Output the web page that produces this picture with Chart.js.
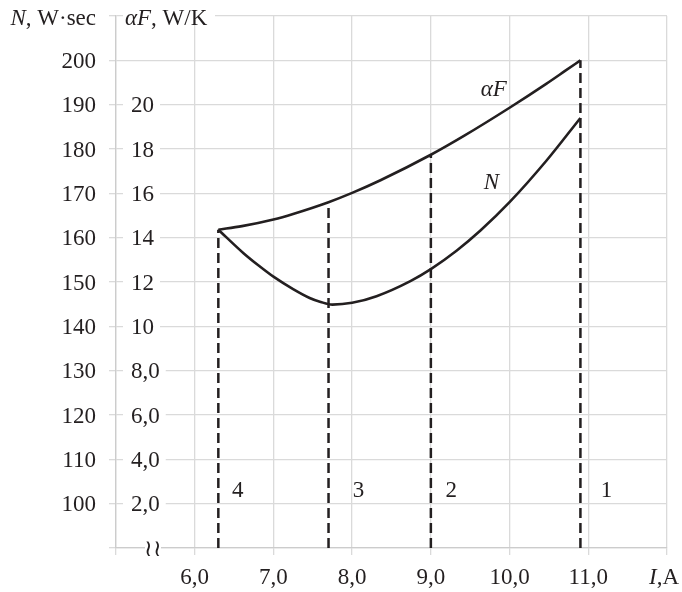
<!DOCTYPE html>
<html>
<head>
<meta charset="utf-8">
<script src="https://cdn.jsdelivr.net/npm/chart.js@4.4.0/dist/chart.umd.min.js"></script>
<style>
  html, body { margin: 0; padding: 0; background: #ffffff; }
</style>
</head>
<body>
<canvas id="chart" width="682" height="592"></canvas>
<script>
// Current I, A and loss N, W·sec along the N curve
const nCurrent = [6.3, 6.62, 6.82, 7.0, 7.25, 7.46, 7.6, 7.75, 8.0, 8.31, 8.74, 9.0, 9.33, 9.63, 10.0, 10.47, 10.9];
const nPower   = [161.8, 156.5, 153.6, 151.2, 148.4, 146.4, 145.5, 144.9, 145.3, 146.8, 150.2, 152.9, 157.1, 161.6, 168.0, 177.4, 187.0];

// Current I, A and heat transfer αF, W/K along the αF curve
const afCurrent = [6.3, 6.6, 7.0, 7.25, 7.7, 8.0, 8.36, 9.0, 9.42, 10.0, 10.47, 10.7, 10.9];
const afValues  = [14.36, 14.52, 14.82, 15.07, 15.6, 16.02, 16.59, 17.74, 18.59, 19.86, 20.95, 21.51, 22.0];

// Region boundaries (dashed verticals) and the region numbers to their right
const boundaryCurrent = [6.3, 7.7, 9.0, 10.9];
const regionNames = ['4', '3', '2', '1'];

// Axis tick labels
const xTickLabels = ['', '6,0', '7,0', '8,0', '9,0', '10,0', '11,0', ''];
const nTickLabels = ['', '100', '110', '120', '130', '140', '150', '160', '170', '180', '190', '200', ''];
const afTickValues = [2, 4, 6, 8, 10, 12, 14, 16, 18, 20];
const afTickLabels = ['2,0', '4,0', '6,0', '8,0', '10', '12', '14', '16', '18', '20'];

const SERIF = '"Liberation Serif", "Times New Roman", serif';
const INK = '#231f20';
const GRID = '#dadada';
const FONT_SIZE = 23;

function fontOf(size, italic) {
  return (italic ? 'italic ' : '') + size + 'px ' + SERIF;
}

// Draws a run of mixed upright/italic text; returns its left edge and width
function drawRich(ctx, parts, x, y, align) {
  let w = 0;
  parts.forEach(p => { ctx.font = fontOf(FONT_SIZE, p.i); w += ctx.measureText(p.t).width; });
  let cx = align === 'right' ? x - w : (align === 'center' ? x - w / 2 : x);
  const left = cx;
  ctx.textAlign = 'left';
  ctx.textBaseline = 'middle';
  ctx.fillStyle = INK;
  parts.forEach(p => {
    ctx.font = fontOf(FONT_SIZE, p.i);
    ctx.fillText(p.t, cx, y);
    cx += ctx.measureText(p.t).width;
  });
  return { left, width: w };
}

const decorations = {
  id: 'decorations',
  afterDraw(chart) {
    const { ctx, chartArea, scales } = chart;
    const x = scales.x, y = scales.y, yF = scales.yF;
    ctx.save();

    // αF scale, written just inside the N axis over the grid
    const afLeft = chartArea.left + 15;
    ctx.font = fontOf(FONT_SIZE, false);
    afTickValues.forEach((v, i) => {
      const gy = yF.getPixelForValue(v);
      const w = ctx.measureText(afTickLabels[i]).width;
      ctx.fillStyle = '#ffffff';
      ctx.fillRect(afLeft - 8, gy - 3, w + 14, 6);
      ctx.fillStyle = INK;
      ctx.textAlign = 'left';
      ctx.textBaseline = 'middle';
      ctx.fillText(afTickLabels[i], afLeft, gy + 1.5);
    });

    // Axis captions
    const topY = y.getPixelForValue(y.max);
    drawRich(ctx, [{ t: 'N', i: true }, { t: ', W·sec' }], chartArea.left - 20, topY + 2.5, 'right');
    ctx.fillStyle = '#ffffff';
    ctx.fillRect(chartArea.left + 7, topY - 3, 92, 6);
    drawRich(ctx, [{ t: 'αF', i: true }, { t: ', W/K' }], chartArea.left + 9, topY + 2.5, 'left');
    const xLabelY = x.top + 7 + 9 + FONT_SIZE * 0.6;
    drawRich(ctx, [{ t: 'I', i: true }, { t: ',A' }], x.getPixelForValue(x.max) - 3, xLabelY, 'center');

    // Scale break mark on the lower axis
    const bx = chartArea.left + 37, by = chartArea.bottom + 2;
    ctx.fillStyle = '#ffffff';
    ctx.fillRect(bx - 8, chartArea.bottom - 3, 16, 6);
    ctx.fillStyle = INK;
    ctx.font = '23px "DejaVu Serif", serif';
    ctx.textAlign = 'center';
    ctx.textBaseline = 'middle';
    ctx.fillText('≀≀', bx, by);

    // Curve names
    ctx.font = fontOf(FONT_SIZE, true);
    ctx.fillText('αF', x.getPixelForValue(9.80), y.getPixelForValue(193.4));
    ctx.fillText('N', x.getPixelForValue(9.77), y.getPixelForValue(172.4));

    // Region numbers beside each dashed boundary
    const regionOffsets = [19.5, 30, 20.5, 26];
    ctx.font = fontOf(FONT_SIZE, false);
    boundaryCurrent.forEach((b, i) => {
      ctx.fillText(regionNames[i], x.getPixelForValue(b) + regionOffsets[i], y.getPixelForValue(100) - 12.5);
    });

    ctx.restore();
  }
};

const dashedBoundaries = boundaryCurrent.map(b => ({
  data: [{ x: b, y: 0 }, { x: b, y: afValues[afCurrent.indexOf(b)] }],
  yAxisID: 'yF',
  borderColor: INK,
  borderWidth: 2.5,
  borderDash: [10, 5],
  pointRadius: 0,
  tension: 0
}));

function noEdgePadding(scale) {
  scale.paddingTop = 0;
  scale.paddingBottom = 0;
  scale.paddingLeft = 0;
  scale.paddingRight = 0;
}

new Chart(document.getElementById('chart'), {
  type: 'line',
  data: {
    datasets: [
      ...dashedBoundaries,
      {
        label: 'αF',
        data: afCurrent.map((c, i) => ({ x: c, y: afValues[i] })),
        yAxisID: 'yF',
        borderColor: INK,
        borderWidth: 2.6,
        pointRadius: 0,
        cubicInterpolationMode: 'monotone'
      },
      {
        label: 'N',
        data: nCurrent.map((c, i) => ({ x: c, y: nPower[i] })),
        yAxisID: 'y',
        borderColor: INK,
        borderWidth: 2.6,
        pointRadius: 0,
        cubicInterpolationMode: 'monotone'
      }
    ]
  },
  options: {
    responsive: false,
    animation: false,
    devicePixelRatio: 1,
    layout: { padding: { top: 16, right: 15, left: 0, bottom: 0 } },
    plugins: { legend: { display: false }, tooltip: { enabled: false } },
    scales: {
      x: {
        type: 'linear',
        min: 5,
        max: 12,
        afterFit(scale) { scale.height = 44; noEdgePadding(scale); },
        afterBuildTicks(scale) {
          scale.ticks = xTickLabels.map((_, i) => ({ value: 5 + i }));
        },
        ticks: {
          callback: (v, i) => xTickLabels[i],
          font: { family: SERIF, size: FONT_SIZE },
          color: INK,
          padding: 9,
          maxRotation: 0,
          autoSkip: false
        },
        grid: { color: GRID, lineWidth: 1.3, tickLength: 7 },
        border: { color: '#cccccc', width: 1.3 }
      },
      y: {
        type: 'linear',
        position: 'left',
        min: 90,
        max: 210,
        afterFit(scale) { scale.width = 116; noEdgePadding(scale); },
        afterBuildTicks(scale) {
          scale.ticks = nTickLabels.map((_, i) => ({ value: 90 + 10 * i }));
        },
        ticks: {
          callback: (v, i) => nTickLabels[i],
          font: { family: SERIF, size: FONT_SIZE },
          color: INK,
          padding: 13,
          labelOffset: 1.5,
          autoSkip: false
        },
        grid: { color: GRID, lineWidth: 1.3, tickLength: 7 },
        border: { color: '#cccccc', width: 1.3 }
      },
      yF: {
        type: 'linear',
        position: 'right',
        display: false,
        min: 0,
        max: 24
      }
    }
  },
  plugins: [decorations]
});
</script>
</body>
</html>
